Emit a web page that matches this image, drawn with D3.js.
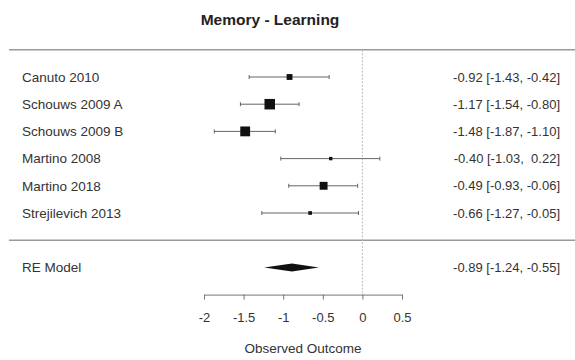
<!DOCTYPE html>
<html>
<head>
<meta charset="utf-8">
<script src="https://cdn.jsdelivr.net/npm/d3@7"></script>
<style>
  html, body { margin: 0; padding: 0; background: #fff; }
  svg text { font-family: "Liberation Sans", Arial, sans-serif; white-space: pre; }
</style>
</head>
<body>
<svg id="chart" width="575" height="360"></svg>
<script>
// Study-level effect sizes with 95% confidence intervals
const studies = ["Canuto 2010", "Schouws 2009 A", "Schouws 2009 B", "Martino 2008", "Martino 2018", "Strejilevich 2013"];
const estimates = [-0.92, -1.17, -1.48, -0.40, -0.49, -0.66];
const lower = [-1.43, -1.54, -1.87, -1.03, -0.93, -1.27];
const upper = [-0.42, -0.80, -1.10, 0.22, -0.06, -0.05];

// Random-effects pooled estimate
const modelLabel = "RE Model";
const modelEst = -0.89;
const modelLower = -1.24;
const modelUpper = -0.55;

const xTicks = [-2, -1.5, -1, -0.5, 0, 0.5];
const title = "Memory - Learning";
const xTitle = "Observed Outcome";

const svg = d3.select("#chart");
const k = studies.length;

const x = d3.scaleLinear().domain([-2, 0.5]).range([204, 402]);
// row k..1 for studies, 0 = separator, -1 = model, -2 = axis
const y = d3.scaleLinear().domain([k, 1]).range([77, 213]);

// marker size from inverse standard error (CI width / 3.92)
const invSe = studies.map((_, i) => 3.92 / (upper[i] - lower[i]));
const size = d3.scaleLinear().domain(d3.extent(invSe)).range([3.4, 10.5]);

// plain hyphen-minus for negative numbers
const locale = d3.formatLocale({ decimal: ".", thousands: ",", grouping: [3], currency: ["", ""], minus: "-" });
const fmt = locale.format(".2f");
const fmtCI = v => (v >= 0 ? " " : "") + fmt(v);
const fmtTick = locale.format("");
const lineColor = "#555";
const textColor = "#333";

// title
svg.append("text")
  .attr("x", 270).attr("y", 25)
  .attr("text-anchor", "middle")
  .attr("font-size", 15.5).attr("font-weight", "bold")
  .attr("fill", "#222")
  .text(title);

// horizontal rules
[k + 1, 0].forEach(r => {
  svg.append("line")
    .attr("x1", 9).attr("x2", 575)
    .attr("y1", y(r)).attr("y2", y(r))
    .attr("stroke", "#9a9a9a").attr("stroke-width", 1.6);
});

// reference line at zero
svg.append("line")
  .attr("x1", x(0)).attr("x2", x(0))
  .attr("y1", y(k + 1)).attr("y2", y(-2))
  .attr("stroke", "#bbb").attr("stroke-width", 1)
  .attr("stroke-dasharray", "2,1.5");

// study rows
const rows = svg.append("g").selectAll("g")
  .data(studies)
  .join("g")
  .attr("transform", (d, i) => `translate(0,${y(k - i)})`);

rows.append("line")
  .attr("x1", (d, i) => x(lower[i])).attr("x2", (d, i) => x(upper[i]))
  .attr("stroke", lineColor).attr("stroke-width", 0.9);

rows.append("line")
  .attr("x1", (d, i) => x(lower[i])).attr("x2", (d, i) => x(lower[i]))
  .attr("y1", -2).attr("y2", 2)
  .attr("stroke", lineColor).attr("stroke-width", 0.9);

rows.append("line")
  .attr("x1", (d, i) => x(upper[i])).attr("x2", (d, i) => x(upper[i]))
  .attr("y1", -2).attr("y2", 2)
  .attr("stroke", lineColor).attr("stroke-width", 0.9);

rows.append("rect")
  .attr("x", (d, i) => x(estimates[i]) - size(invSe[i]) / 2)
  .attr("y", (d, i) => -size(invSe[i]) / 2)
  .attr("width", (d, i) => size(invSe[i]))
  .attr("height", (d, i) => size(invSe[i]))
  .attr("fill", "#111");

rows.append("text")
  .attr("x", 22).attr("dy", "0.36em")
  .attr("font-size", 13.5).attr("fill", textColor)
  .text(d => d);

rows.append("text")
  .attr("x", 560).attr("dy", "0.36em")
  .attr("text-anchor", "end")
  .attr("font-size", 13).attr("fill", textColor)
  .text((d, i) => `${fmt(estimates[i])} [${fmt(lower[i])}, ${fmtCI(upper[i])}]`);

// pooled estimate diamond
const yM = y(-1);
svg.append("polygon")
  .attr("points", [
    [x(modelLower), yM], [x(modelEst), yM - 4],
    [x(modelUpper), yM], [x(modelEst), yM + 4]
  ].map(p => p.join(",")).join(" "))
  .attr("fill", "#111");

svg.append("text")
  .attr("x", 22).attr("y", yM).attr("dy", "0.36em")
  .attr("font-size", 13.5).attr("fill", textColor)
  .text(modelLabel);

svg.append("text")
  .attr("x", 560).attr("y", yM).attr("dy", "0.36em")
  .attr("text-anchor", "end")
  .attr("font-size", 13).attr("fill", textColor)
  .text(`${fmt(modelEst)} [${fmt(modelLower)}, ${fmtCI(modelUpper)}]`);

// x axis
const axis = svg.append("g")
  .attr("transform", `translate(0,${y(-2)})`)
  .call(d3.axisBottom(x).tickValues(xTicks).tickSize(5).tickSizeOuter(0).tickFormat(fmtTick));
axis.select(".domain").attr("stroke", "#666").attr("stroke-width", 0.9);
axis.selectAll(".tick line").attr("stroke", "#666").attr("stroke-width", 0.9);
axis.selectAll(".tick text")
  .attr("y", 18)
  .attr("font-family", "Liberation Sans, Arial, sans-serif")
  .attr("font-size", 13).attr("fill", textColor);

svg.append("text")
  .attr("x", x(-0.75)).attr("y", 353)
  .attr("text-anchor", "middle")
  .attr("font-size", 13.5).attr("fill", textColor)
  .text(xTitle);
</script>
</body>
</html>
